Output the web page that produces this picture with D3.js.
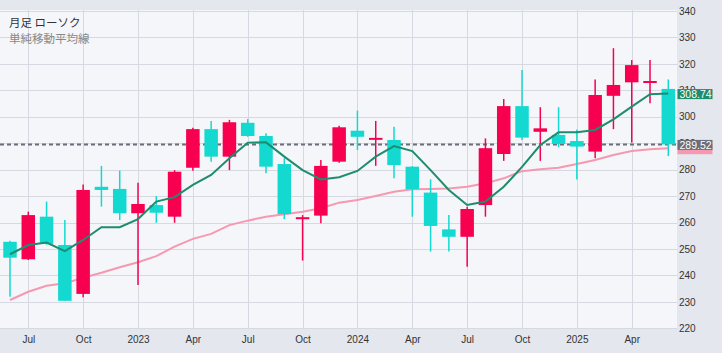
<!DOCTYPE html>
<html><head><meta charset="utf-8">
<script src="https://cdn.jsdelivr.net/npm/d3@7"></script>
<style>
html,body{margin:0;padding:0;background:#e4e7ee;}
svg{display:block;}
</style></head>
<body>
<script>
const months = ["2022-06","2022-07","2022-08","2022-09","2022-10","2022-11","2022-12",
"2023-01","2023-02","2023-03","2023-04","2023-05","2023-06","2023-07","2023-08","2023-09","2023-10","2023-11","2023-12",
"2024-01","2024-02","2024-03","2024-04","2024-05","2024-06","2024-07","2024-08","2024-09","2024-10","2024-11","2024-12",
"2025-01","2025-02","2025-03","2025-04","2025-05","2025-06"];
const open  = [252.7,246.1,262.2,251.5,233.0,273.5,272.7,263.5,266.6,262.2,280.7,295.3,284.9,297.7,292.7,282.1,261.6,262.6,283.0,294.7,291.6,291.2,281.1,271.3,257.4,254.6,266.6,285.9,304.0,294.3,293.1,290.8,286.8,307.9,313.0,312.9,310.5];
const high  = [253.1,264.1,267.9,260.9,274.4,281.4,279.6,275.0,270.0,279.8,295.8,298.4,298.8,299.1,293.7,284.3,262.8,283.6,296.6,302.3,298.4,296.2,281.3,276.3,262.8,266.0,291.8,306.7,317.7,303.6,303.6,295.2,314.1,325.9,321.4,321.4,314.1];
const low   = [231.9,245.8,251.6,230.4,231.7,266.0,260.9,236.4,259.9,259.9,279.6,283.0,279.8,292.4,278.6,261.3,245.6,259.7,282.6,287.4,281.4,276.7,262.2,249.0,249.0,243.3,262.2,283.3,291.2,283.3,288.4,276.3,284.3,295.3,290.2,305.1,285.1];
const close = [246.7,262.8,251.9,230.4,272.3,272.3,263.5,267.0,263.7,279.2,295.3,284.9,297.9,292.7,281.1,263.2,262.0,281.4,296.0,292.4,292.0,281.7,272.6,258.7,254.6,265.1,288.1,304.0,292.1,295.6,289.7,288.7,308.2,312.0,319.5,313.5,289.52];
const maShort = [248.0,251.5,252.4,249.2,253.4,258.2,258.2,261.3,267.9,269.6,274.2,278.0,284.3,290.2,290.3,284.9,279.8,276.3,277.1,279.5,284.9,288.9,287.0,279.8,272.3,266.6,267.9,273.5,281.0,289.3,294.1,294.1,295.0,299.0,303.8,308.5,308.74];
const maLong  = [230.7,233.8,236.1,237.0,239.1,241.0,243.1,245.0,247.3,250.9,253.8,255.7,259.0,260.7,262.2,263.1,264.1,265.4,267.5,268.5,270.0,271.6,272.6,272.7,272.9,273.5,274.8,276.7,279.4,280.1,280.7,282.1,283.6,285.5,287.0,287.7,288.1];
const yTicks = [220,230,240,250,260,270,280,290,300,310,320,330,340];
const xTickMonths = ["2022-07","2022-10","2023-01","2023-04","2023-07","2023-10","2024-01","2024-04","2024-07","2024-10","2025-01","2025-04"];
const xTickLabels = ["Jul","Oct","2023","Apr","Jul","Oct","2024","Apr","Jul","Oct","2025","Apr"];
const legendLines = ["月足 ローソク","単純移動平均線"];

const W = 722, H = 353;
const plot = {left:0, right:677, top:10, bottom:329};
const FONT = "'Liberation Sans',Arial,sans-serif";
const svg = d3.select("body").append("svg").attr("width",W).attr("height",H);
svg.append("rect").attr("width",W).attr("height",H).attr("fill","#e4e7ee");
svg.append("rect").attr("x",plot.left).attr("y",plot.top).attr("width",plot.right-plot.left).attr("height",plot.bottom-plot.top).attr("fill","#f5f6f9");

const x = d3.scaleLinear().domain([0, months.length-1]).range([10, 668.3]);
const y = d3.scaleLinear().domain([220,340]).range([328.3, 10.9]);
const idx = m => months.indexOf(m);

const grid = svg.append("g");
grid.selectAll("line.h").data(yTicks).join("line")
  .attr("x1",plot.left).attr("x2",plot.right)
  .attr("y1",d=>Math.round(y(d))+0.5).attr("y2",d=>Math.round(y(d))+0.5)
  .attr("stroke","#d6d9e2").attr("stroke-width",1);
grid.selectAll("line.v").data(xTickMonths).join("line")
  .attr("x1",d=>Math.round(x(idx(d)))+0.5).attr("x2",d=>Math.round(x(idx(d)))+0.5)
  .attr("y1",plot.top).attr("y2",plot.bottom)
  .attr("stroke","#d6d9e2").attr("stroke-width",1);

// axes
const yAxis = d3.axisRight(y).tickValues(yTicks).tickSize(0).tickPadding(2);
const ga = svg.append("g").attr("transform",`translate(${plot.right},0)`).call(yAxis);
ga.select(".domain").remove();
ga.selectAll("text").attr("font-family",FONT).attr("font-size",10).attr("fill","#333");

const xAxis = d3.axisBottom(x)
  .tickValues(xTickMonths.map(idx)).tickFormat((d,i)=>xTickLabels[i]).tickSize(0).tickPadding(7);
const gx = svg.append("g").attr("transform",`translate(0,${plot.bottom})`).call(xAxis);
gx.select(".domain").remove();
gx.selectAll("text").attr("font-family",FONT).attr("font-size",10).attr("fill","#333");

// price line
const last = close[close.length-1];
svg.append("line").attr("x1",plot.left).attr("x2",plot.right)
  .attr("y1",y(last)).attr("y2",y(last))
  .attr("stroke","#6b6e78").attr("stroke-width",2).attr("stroke-dasharray","4,3");

// MA long
const line = arr => d3.line().x((d,i)=>x(i)).y(d=>y(d))(arr);
svg.append("path").attr("d",line(maLong)).attr("fill","none").attr("stroke","#f598b0").attr("stroke-width",2);

// candles
const UP = "#f7004f", DOWN = "#14d9d1";
const bw = 13.5;
const cg = svg.append("g");
const cdata = months.map((m,i)=>({i,o:open[i],h:high[i],l:low[i],c:close[i]}));
cg.selectAll("line.w").data(cdata).join("line")
  .attr("x1",d=>x(d.i)).attr("x2",d=>x(d.i))
  .attr("y1",d=>y(d.h)).attr("y2",d=>y(d.l))
  .attr("stroke",d=>d.c>=d.o?UP:DOWN).attr("stroke-width",1.5);
cg.selectAll("rect").data(cdata).join("rect")
  .attr("x",d=>x(d.i)-bw/2).attr("width",bw)
  .attr("y",d=>y(Math.max(d.o,d.c)))
  .attr("height",d=>Math.max(2, Math.abs(y(d.o)-y(d.c))))
  .attr("fill",d=>d.c>=d.o?UP:DOWN);

// MA short
svg.append("path").attr("d",line(maShort)).attr("fill","none").attr("stroke","#1e8c6e").attr("stroke-width",2);

// last-value tags on the price axis (drawn over the tick labels, as in the reference)
function tag(v, bg, txt){
  const g = svg.append("g").attr("transform",`translate(${plot.right+0.5},${y(v)+0.5})`);
  g.append("rect").attr("x",0).attr("y",-5).attr("width",35).attr("height",10).attr("fill",bg);
  if (txt) g.append("text").attr("x",2).attr("y",0).attr("dy","0.36em")
    .attr("font-family",FONT).attr("font-size",10.5).attr("fill","#fff").text(txt);
}
tag(maLong[maLong.length-1]-0.2, "#f598b0", null);
tag(last, "#6b6e78", d3.format(".2f")(last));
tag(maShort[maShort.length-1], "#1e8c6e", d3.format(".2f")(maShort[maShort.length-1]));

// legend
svg.selectAll("text.leg").data(legendLines).join("text")
  .attr("x",9).attr("y",(d,i)=>27+i*15.5)
  .attr("font-family","'Noto Sans CJK JP',sans-serif").attr("font-size",11.5)
  .attr("fill",(d,i)=>i===0?"#333":"#888").text(d=>d);
</script>
</body></html>
